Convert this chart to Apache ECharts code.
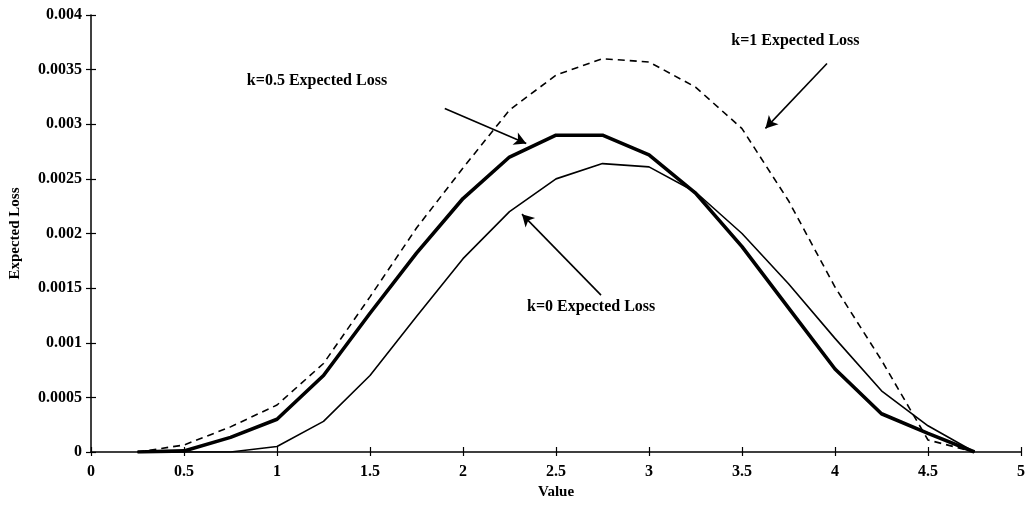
<!DOCTYPE html>
<html>
<head>
<meta charset="utf-8">
<script src="https://cdn.jsdelivr.net/npm/echarts@6/dist/echarts.min.js"></script>
<style>
  html, body { margin: 0; padding: 0; background: #fff; }
  #chart { width: 1036px; height: 512px; }
</style>
</head>
<body>
<div id="chart"></div>
<script>
// x positions of the computed points
var xValues = [0.25, 0.5, 0.75, 1, 1.25, 1.5, 1.75, 2, 2.25, 2.5, 2.75, 3, 3.25, 3.5, 3.75, 4, 4.25, 4.5, 4.75];

// k=0 (thin solid)
var lossK0 = [0, 0, 0, 0.00005, 0.00028, 0.0007, 0.00124, 0.00177, 0.0022, 0.0025, 0.00264, 0.00261, 0.00238, 0.002, 0.00154, 0.00104, 0.00056, 0.00024, 0];
// k=0.5 (thick solid)
var lossK05 = [0, 0.00001, 0.000134, 0.0003, 0.0007, 0.00127, 0.00182, 0.00232, 0.0027, 0.0029, 0.0029, 0.00272, 0.00237, 0.00188, 0.00132, 0.00076, 0.00035, 0.00017, 0];
// k=1 (dashed)
var lossK1 = [0, 0.000064, 0.00023, 0.00043, 0.00081, 0.00142, 0.00205, 0.0026, 0.00313, 0.00345, 0.0036, 0.00357, 0.00334, 0.00296, 0.0023, 0.00151, 0.00084, 0.00011, 0];

// annotation text and arrows, in data coordinates
var noteTexts = ['k=0.5 Expected Loss', 'k=1 Expected Loss', 'k=0 Expected Loss'];
var notePositions = [[1.215, 0.0034], [3.787, 0.00376], [2.689, 0.001327]];
var arrowStarts = [[1.902, 0.003145], [3.957, 0.003556], [2.742, 0.001436]];
var arrowEnds = [[2.340, 0.002824], [3.626, 0.002962], [2.317, 0.002177]];

var font = '"Liberation Serif", "DejaVu Serif", serif';

function pairs(ys) {
    return xValues.map(function (x, i) { return [x, ys[i]]; });
}

var chart = echarts.init(document.getElementById('chart'), null, { renderer: 'canvas' });

var axisLine = { show: true, lineStyle: { color: '#000', width: 1.5 } };
var labelStyle = { color: '#000', fontFamily: font, fontWeight: 'bold', fontSize: 16 };
var nameStyle = { color: '#000', fontFamily: font, fontWeight: 'bold', fontSize: 15 };

chart.setOption({
    animation: false,
    backgroundColor: '#fff',
    grid: { left: 89, right: 15, top: 15, bottom: 60 },
    xAxis: [
        {
            type: 'value', min: 0, max: 5, interval: 0.5,
            name: 'Value', nameLocation: 'middle', nameGap: 32,
            nameTextStyle: nameStyle,
            axisLine: axisLine,
            axisTick: { show: true, inside: false, length: 4, lineStyle: { color: '#000', width: 1.2 } },
            axisLabel: Object.assign({ margin: 12 }, labelStyle),
            splitLine: { show: false }
        },
        {
            type: 'value', min: 0, max: 5, interval: 0.5, position: 'bottom',
            axisLine: { show: false },
            axisTick: { show: true, inside: true, length: 5, lineStyle: { color: '#000', width: 1.2 } },
            axisLabel: { show: false },
            splitLine: { show: false }
        }
    ],
    yAxis: [
        {
            type: 'value', min: 0, max: 0.004, interval: 0.0005,
            name: 'Expected Loss', nameLocation: 'middle', nameGap: 68,
            nameTextStyle: nameStyle,
            axisLine: axisLine,
            axisTick: { show: true, inside: false, length: 5, lineStyle: { color: '#000', width: 1.2 } },
            axisLabel: Object.assign({ margin: 9, formatter: function (v) { return String(+v.toFixed(4)); } }, labelStyle),
            splitLine: { show: false }
        },
        {
            type: 'value', min: 0, max: 0.004, interval: 0.0005, position: 'left',
            axisLine: { show: false },
            axisTick: { show: true, inside: true, length: 5, lineStyle: { color: '#000', width: 1.2 } },
            axisLabel: { show: false },
            splitLine: { show: false }
        }
    ],
    series: [
        {
            name: 'k=1', type: 'line', data: pairs(lossK1), showSymbol: false,
            lineStyle: { color: '#000', width: 1.6, type: [7, 5] }
        },
        {
            name: 'k=0', type: 'line', data: pairs(lossK0), showSymbol: false,
            lineStyle: { color: '#000', width: 1.6 }
        },
        {
            name: 'k=0.5', type: 'line', data: pairs(lossK05), showSymbol: false,
            lineStyle: { color: '#000', width: 3.6 },
            markLine: {
                silent: true,
                symbol: ['none', 'arrow'],
                symbolSize: [10, 12],
                label: { show: false },
                lineStyle: { color: '#000', width: 1.6, type: 'solid' },
                data: arrowStarts.map(function (s, i) {
                    return [{ coord: s }, { coord: arrowEnds[i] }];
                })
            }
        }
    ]
});

chart.setOption({
    graphic: noteTexts.map(function (t, i) {
        var p = chart.convertToPixel({ xAxisIndex: 0, yAxisIndex: 0 }, notePositions[i]);
        return {
            type: 'text', x: p[0], y: p[1],
            style: {
                text: t, fill: '#000', font: 'bold 16px ' + font,
                textAlign: 'center', textVerticalAlign: 'middle'
            }
        };
    })
});
</script>
</body>
</html>
